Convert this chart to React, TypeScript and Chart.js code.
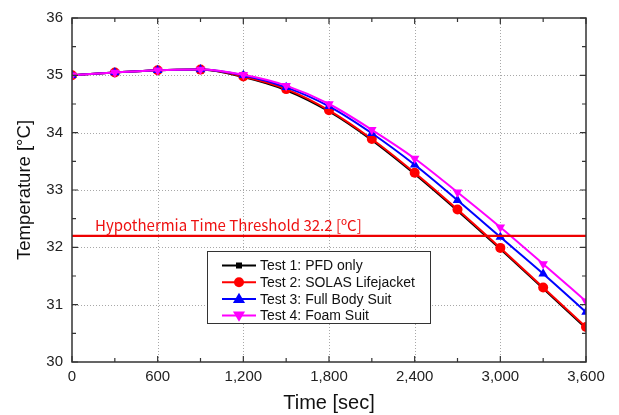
import React, { useEffect, useRef } from "react";
import { Chart, registerables } from "chart.js";

Chart.register(...registerables);

const times = [0, 300, 600, 900, 1200, 1500, 1800, 2100, 2400, 2700, 3000, 3300, 3600];
const test1 = [35.0, 35.05, 35.09, 35.1, 34.97, 34.74, 34.37, 33.87, 33.28, 32.64, 31.97, 31.28, 30.59];
const test2 = [35.0, 35.05, 35.09, 35.1, 34.98, 34.76, 34.39, 33.89, 33.3, 32.66, 31.99, 31.3, 30.61];
const test3 = [35.0, 35.05, 35.09, 35.1, 35.0, 34.79, 34.46, 33.99, 33.44, 32.82, 32.18, 31.54, 30.87];
const test4 = [35.0, 35.05, 35.09, 35.1, 35.01, 34.82, 34.5, 34.05, 33.55, 32.96, 32.35, 31.71, 31.06];
const seriesNames = ["Test 1: PFD only", "Test 2: SOLAS Lifejacket", "Test 3: Full Body Suit", "Test 4: Foam Suit"];
const thresholdValue = 32.2;
const thresholdLabel = "Hypothermia Time Threshold 32.2 [ºC]";
const xTitle = "Time [sec]";
const yTitle = "Temperature [°C]";

const colors = ["#000000", "#ff0000", "#0000ff", "#ff00ff"];
const styles: any[] = ["rect", "circle", "triangle", "triangle"];
const rotations = [0, 0, 0, 180];
const radii = [3, 5, 5.5, 5.5];

const isMajorX = (v: number) => v % 600 === 0;
const isMajorY = (v: number) => Math.abs(v - Math.round(v)) < 1e-6;

function drawMarker(ctx: CanvasRenderingContext2D, style: string, rot: number, x: number, y: number, r: number, color: string) {
  ctx.save();
  ctx.fillStyle = color;
  ctx.beginPath();
  if (style === "rect") {
    ctx.rect(x - r, y - r, 2 * r, 2 * r);
  } else if (style === "circle") {
    ctx.arc(x, y, r, 0, Math.PI * 2);
  } else {
    const s = rot === 180 ? -1 : 1;
    ctx.moveTo(x, y - s * r * 1.1);
    ctx.lineTo(x - r * 1.1, y + s * r * 0.75);
    ctx.lineTo(x + r * 1.1, y + s * r * 0.75);
    ctx.closePath();
  }
  ctx.fill();
  ctx.restore();
}

const gridPlugin = {
  id: "dottedGrid",
  beforeDatasetsDraw(chart: any) {
    const { ctx, chartArea: a, scales } = chart;
    const x = scales.x, y = scales.y;
    ctx.save();
    ctx.strokeStyle = "#a8a8a8";
    ctx.lineWidth = 1;
    ctx.setLineDash([1, 2]);
    ctx.beginPath();
    x.ticks.forEach((t: any) => {
      if (!isMajorX(t.value) || t.value === x.min || t.value === x.max) return;
      const px = Math.round(x.getPixelForValue(t.value)) + 0.5;
      ctx.moveTo(px, a.top);
      ctx.lineTo(px, a.bottom);
    });
    y.ticks.forEach((t: any) => {
      if (!isMajorY(t.value) || t.value === y.min || t.value === y.max) return;
      const py = Math.round(y.getPixelForValue(t.value)) + 0.5;
      ctx.moveTo(a.left, py);
      ctx.lineTo(a.right, py);
    });
    ctx.stroke();
    ctx.restore();
  },
};

const framePlugin = {
  id: "frame",
  afterDatasetsDraw(chart: any) {
    const { ctx, chartArea: a, scales } = chart;
    const x = scales.x, y = scales.y;
    ctx.save();
    // threshold line
    const ty = y.getPixelForValue(thresholdValue);
    ctx.strokeStyle = "#ee0000";
    ctx.lineWidth = 2.2;
    ctx.beginPath();
    ctx.moveTo(a.left, ty);
    ctx.lineTo(a.right, ty);
    ctx.stroke();
    ctx.fillStyle = "#ee1111";
    ctx.font = "15px 'Noto Sans CJK KR', 'Noto Sans', sans-serif";
    ctx.textBaseline = "alphabetic";
    ctx.textAlign = "left";
    ctx.fillText(thresholdLabel, 95, ty - 5);

    // frame
    ctx.strokeStyle = "#333333";
    ctx.lineWidth = 1.5;
    ctx.strokeRect(a.left, a.top, a.right - a.left, a.bottom - a.top);

    // inside ticks
    ctx.lineWidth = 1.2;
    ctx.beginPath();
    x.ticks.forEach((t: any) => {
      const px = x.getPixelForValue(t.value);
      const len = isMajorX(t.value) ? 6 : 4;
      ctx.moveTo(px, a.bottom);
      ctx.lineTo(px, a.bottom - len);
      ctx.moveTo(px, a.top);
      ctx.lineTo(px, a.top + len);
    });
    y.ticks.forEach((t: any) => {
      const py = y.getPixelForValue(t.value);
      const len = isMajorY(t.value) ? 6 : 4;
      ctx.moveTo(a.left, py);
      ctx.lineTo(a.left + len, py);
      ctx.moveTo(a.right, py);
      ctx.lineTo(a.right - len, py);
    });
    ctx.stroke();

    // legend
    const lx = 207, ly = 251, lw = 223, lh = 72;
    ctx.fillStyle = "#ffffff";
    ctx.fillRect(lx, ly, lw, lh);
    ctx.strokeStyle = "#333333";
    ctx.lineWidth = 1;
    ctx.strokeRect(lx + 0.5, ly + 0.5, lw, lh);
    ctx.font = "14px 'Liberation Sans', Arial, sans-serif";
    ctx.textBaseline = "middle";
    seriesNames.forEach((name, i) => {
      const ry = 265.5 + i * 16.7;
      ctx.strokeStyle = colors[i];
      ctx.lineWidth = 2;
      ctx.beginPath();
      ctx.moveTo(222, ry);
      ctx.lineTo(256, ry);
      ctx.stroke();
      drawMarker(ctx, styles[i], rotations[i], 239, ry, radii[i], colors[i]);
      ctx.fillStyle = "#111111";
      ctx.fillText(name, 260, ry + 1);
    });
    ctx.restore();
  },
};

export default function App() {
  const ref = useRef<HTMLCanvasElement>(null);
  useEffect(() => {
    const allSeries = [test1, test2, test3, test4];
    const orders = [4, 3, 2, 1];
    const chart = new Chart(ref.current!, {
      type: "line",
      data: {
        datasets: allSeries.map((s, i) => ({
          label: seriesNames[i],
          data: s.map((v, j) => ({ x: times[j], y: v })),
          borderColor: colors[i],
          backgroundColor: colors[i],
          borderWidth: 2,
          pointStyle: styles[i],
          pointRotation: rotations[i],
          pointRadius: radii[i],
          pointBorderWidth: 0,
          cubicInterpolationMode: "monotone" as const,
          order: orders[i],
        })),
      },
      options: {
        animation: false,
        responsive: false,
        layout: { padding: { top: 15, right: 33, left: 0, bottom: 0 } },
        plugins: { legend: { display: false }, tooltip: { enabled: false } },
        scales: {
          x: {
            type: "linear",
            min: 0,
            max: 3600,
            ticks: {
              stepSize: 300,
              autoSkip: false,
              maxRotation: 0,
              color: "#222",
              padding: 6,
              font: { family: "'Liberation Sans', Arial, sans-serif", size: 15 },
              callback: (v: any) => (isMajorX(Number(v)) ? Number(v).toLocaleString("en-US") : ""),
            },
            grid: { display: false, drawTicks: false },
            border: { display: false },
            title: {
              display: true,
              text: xTitle,
              color: "#111",
              font: { family: "'Liberation Sans', Arial, sans-serif", size: 20 },
              padding: { top: 4, bottom: 0 },
            },
            afterFit: (s: any) => {
              s.height = 53;
            },
          },
          y: {
            type: "linear",
            min: 30,
            max: 36,
            ticks: {
              stepSize: 0.5,
              autoSkip: false,
              color: "#222",
              padding: 9,
              font: { family: "'Liberation Sans', Arial, sans-serif", size: 15 },
              callback: (v: any) => (isMajorY(Number(v)) ? String(v) : ""),
            },
            grid: { display: false, drawTicks: false },
            border: { display: false },
            title: {
              display: true,
              text: yTitle,
              color: "#111",
              font: { family: "'Liberation Sans', Arial, sans-serif", size: 18.5 },
              padding: { top: 14, bottom: 0 },
            },
            afterFit: (s: any) => {
              s.width = 72;
            },
          },
        },
      },
      plugins: [gridPlugin, framePlugin],
    } as any);
    return () => chart.destroy();
  }, []);
  return (
    <div style={{ position: "fixed", left: 0, top: 0, width: 619, height: 415, background: "#fff" }}>
      <canvas ref={ref} width={619} height={415} style={{ display: "block" }} />
    </div>
  );
}
